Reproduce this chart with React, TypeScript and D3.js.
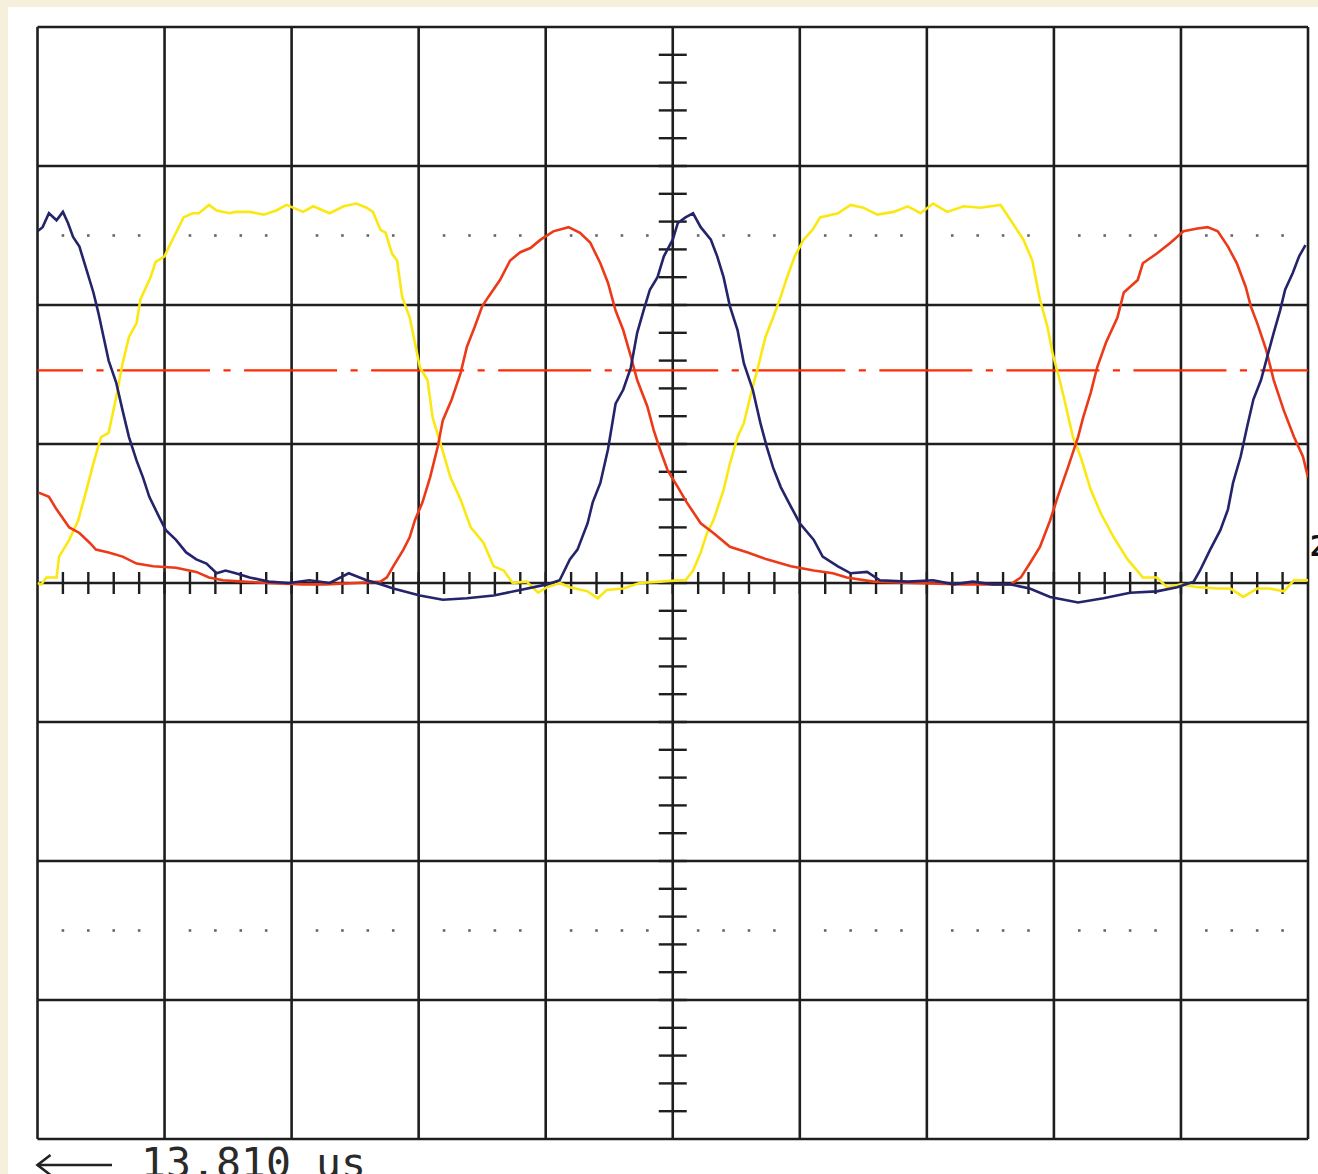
import React from "react";
import * as d3 from "d3";

// Oscilloscope screen: 10 horizontal divisions (time), 8 vertical divisions (volts/div),
// values expressed in divisions, vertical 0 = screen centre.
const timeDivs = d3.range(0, 11);
const voltDivs = d3.range(-4, 5);
const cursorLevels = [2.5, -2.5];
const triggerLevel = 1.53;
const timebaseLabel = "13.810 us";
const channelMarker = "2";

const yellowTrace: [number, number][] = [
  [0.0, 0.0], [0.03, -0.01], [0.07, 0.04], [0.15, 0.04], [0.17, 0.19], [0.25, 0.31], [0.32, 0.45],
  [0.38, 0.65], [0.44, 0.86], [0.5, 1.05], [0.56, 1.08], [0.62, 1.34], [0.67, 1.58], [0.72, 1.77],
  [0.78, 1.87], [0.81, 2.04], [0.89, 2.2], [0.93, 2.31], [1.0, 2.35], [1.03, 2.41], [1.09, 2.52],
  [1.15, 2.63], [1.22, 2.66], [1.27, 2.66], [1.35, 2.72], [1.41, 2.68], [1.51, 2.66], [1.56, 2.67],
  [1.67, 2.67], [1.78, 2.65], [1.88, 2.68], [1.96, 2.72], [2.09, 2.67], [2.17, 2.71], [2.3, 2.66],
  [2.41, 2.71], [2.51, 2.73], [2.59, 2.7], [2.64, 2.67], [2.7, 2.54], [2.74, 2.52], [2.79, 2.37],
  [2.83, 2.32], [2.87, 2.06], [2.93, 1.91], [2.97, 1.73], [3.01, 1.55], [3.07, 1.46], [3.11, 1.19],
  [3.17, 1.01], [3.25, 0.76], [3.33, 0.6], [3.41, 0.4], [3.51, 0.29], [3.59, 0.12], [3.67, 0.09],
  [3.74, 0.0], [3.85, 0.01], [3.94, -0.07], [4.01, -0.03], [4.11, 0.0], [4.19, -0.03], [4.33, -0.06],
  [4.41, -0.11], [4.48, -0.05], [4.61, -0.04], [4.74, 0.0], [4.9, 0.01], [5.06, 0.02], [5.1, 0.02],
  [5.16, 0.09], [5.22, 0.22], [5.27, 0.36], [5.32, 0.45], [5.4, 0.67], [5.45, 0.86], [5.51, 1.05],
  [5.56, 1.15], [5.61, 1.34], [5.67, 1.55], [5.73, 1.77], [5.79, 1.91], [5.85, 2.06], [5.9, 2.2],
  [5.96, 2.35], [6.03, 2.47], [6.1, 2.54], [6.16, 2.63], [6.3, 2.66], [6.4, 2.72], [6.5, 2.7],
  [6.61, 2.65], [6.74, 2.67], [6.85, 2.71], [6.95, 2.66], [7.05, 2.73], [7.16, 2.67], [7.29, 2.71],
  [7.42, 2.7], [7.58, 2.72], [7.66, 2.61], [7.76, 2.47], [7.83, 2.32], [7.89, 2.04], [7.95, 1.84],
  [7.99, 1.65], [8.04, 1.48], [8.09, 1.29], [8.15, 1.05], [8.21, 0.91], [8.29, 0.67], [8.37, 0.5],
  [8.47, 0.33], [8.58, 0.17], [8.7, 0.04], [8.81, 0.04], [8.89, -0.03], [9.0, -0.01], [9.13, -0.03],
  [9.29, -0.04], [9.39, -0.04], [9.49, -0.1], [9.6, -0.04], [9.7, -0.04], [9.81, -0.06], [9.89, 0.02],
  [10.0, 0.02],
];

const redTrace: [number, number][] = [
  [0.01, 0.65], [0.09, 0.62], [0.15, 0.53], [0.25, 0.4], [0.33, 0.36], [0.41, 0.29], [0.46, 0.24],
  [0.56, 0.22], [0.67, 0.19], [0.78, 0.14], [0.91, 0.12], [1.09, 0.11], [1.25, 0.08], [1.35, 0.04],
  [1.46, 0.02], [1.62, 0.01], [1.82, 0.0], [2.09, -0.01], [2.27, -0.01], [2.51, 0.0], [2.7, 0.01],
  [2.75, 0.04], [2.8, 0.12], [2.88, 0.24], [2.93, 0.33], [2.97, 0.45], [3.03, 0.58], [3.09, 0.76],
  [3.15, 0.98], [3.19, 1.17], [3.26, 1.32], [3.33, 1.51], [3.38, 1.7], [3.44, 1.84], [3.5, 1.99],
  [3.55, 2.06], [3.64, 2.18], [3.72, 2.32], [3.8, 2.38], [3.88, 2.41], [3.96, 2.47], [4.06, 2.53],
  [4.18, 2.56], [4.27, 2.52], [4.35, 2.45], [4.43, 2.3], [4.49, 2.16], [4.55, 1.96], [4.61, 1.82],
  [4.67, 1.63], [4.72, 1.46], [4.8, 1.27], [4.85, 1.1], [4.9, 0.96], [4.96, 0.81], [5.04, 0.69],
  [5.11, 0.58], [5.22, 0.43], [5.32, 0.36], [5.45, 0.26], [5.59, 0.22], [5.74, 0.17], [5.93, 0.12],
  [6.11, 0.09], [6.26, 0.07], [6.37, 0.04], [6.58, 0.01], [6.89, 0.0], [7.29, -0.01], [7.66, -0.01],
  [7.74, 0.04], [7.81, 0.14], [7.89, 0.26], [7.97, 0.45], [8.03, 0.62], [8.11, 0.83], [8.19, 1.05],
  [8.23, 1.19], [8.29, 1.37], [8.34, 1.55], [8.41, 1.73], [8.5, 1.91], [8.55, 2.09], [8.66, 2.18],
  [8.7, 2.3], [8.81, 2.37], [8.92, 2.45], [9.02, 2.53], [9.13, 2.55], [9.21, 2.56], [9.29, 2.53],
  [9.37, 2.42], [9.44, 2.3], [9.51, 2.13], [9.55, 1.99], [9.6, 1.87], [9.67, 1.68], [9.73, 1.46],
  [9.81, 1.24], [9.89, 1.05], [9.96, 0.91], [10.0, 0.76],
];

const blueTrace: [number, number][] = [
  [0.0, 2.53], [0.04, 2.56], [0.09, 2.66], [0.15, 2.61], [0.2, 2.67], [0.24, 2.59], [0.28, 2.49],
  [0.33, 2.42], [0.38, 2.27], [0.44, 2.09], [0.48, 1.94], [0.52, 1.77], [0.56, 1.6], [0.62, 1.44],
  [0.67, 1.24], [0.72, 1.05], [0.78, 0.88], [0.83, 0.76], [0.88, 0.62], [0.96, 0.47], [1.01, 0.38],
  [1.09, 0.31], [1.17, 0.22], [1.25, 0.17], [1.33, 0.14], [1.41, 0.07], [1.48, 0.09], [1.56, 0.07],
  [1.67, 0.04], [1.82, 0.01], [1.98, 0.0], [2.14, 0.02], [2.3, 0.0], [2.45, 0.07], [2.59, 0.02],
  [2.67, 0.0], [2.8, -0.04], [3.01, -0.09], [3.19, -0.12], [3.38, -0.11], [3.59, -0.09], [3.8, -0.05],
  [4.01, -0.01], [4.11, 0.02], [4.19, 0.17], [4.25, 0.24], [4.33, 0.43], [4.37, 0.58], [4.43, 0.72],
  [4.49, 0.96], [4.55, 1.29], [4.61, 1.39], [4.67, 1.55], [4.72, 1.8], [4.77, 1.96], [4.82, 2.11],
  [4.88, 2.2], [4.93, 2.35], [5.0, 2.47], [5.04, 2.59], [5.1, 2.63], [5.16, 2.66], [5.22, 2.56],
  [5.3, 2.47], [5.35, 2.35], [5.4, 2.2], [5.45, 1.99], [5.51, 1.82], [5.56, 1.58], [5.63, 1.39],
  [5.69, 1.15], [5.74, 0.98], [5.79, 0.83], [5.85, 0.69], [5.93, 0.55], [6.0, 0.43], [6.11, 0.31],
  [6.18, 0.19], [6.3, 0.12], [6.4, 0.07], [6.53, 0.08], [6.63, 0.02], [6.85, 0.01], [7.05, 0.02],
  [7.21, -0.01], [7.36, 0.01], [7.52, -0.01], [7.66, -0.01], [7.81, -0.04], [7.97, -0.1], [8.19, -0.14],
  [8.39, -0.11], [8.6, -0.07], [8.81, -0.06], [8.97, -0.03], [9.1, 0.01], [9.15, 0.09], [9.23, 0.24],
  [9.31, 0.38], [9.37, 0.53], [9.41, 0.72], [9.47, 0.91], [9.52, 1.12], [9.57, 1.32], [9.63, 1.46],
  [9.68, 1.63], [9.73, 1.8], [9.78, 1.96], [9.82, 2.11], [9.88, 2.23], [9.93, 2.35], [9.98, 2.43],
];

const W = 1318;
const H = 1174;
const plot = { left: 37.5, right: 1308, top: 27, bottom: 1139 };

export default function App() {
  const x = d3.scaleLinear().domain([0, 10]).range([plot.left, plot.right]);
  const y = d3.scaleLinear().domain([-4, 4]).range([plot.bottom, plot.top]);
  const line = d3
    .line<[number, number]>()
    .x((d) => x(d[0]))
    .y((d) => y(d[1]))
    .curve(d3.curveLinear);

  const divW = x(1) - x(0);
  const minorX = d3.range(1, 50).map((i) => i / 5);
  const minorY = d3.range(-19, 20).map((i) => i / 5);
  const dotX = d3.range(1, 50).filter((i) => i % 5 !== 0).map((i) => i / 5);

  const gridColor = "#1e1e1e";
  const traces = [
    { data: yellowTrace, color: "#fbe813" },
    { data: redTrace, color: "#ec3a18" },
    { data: blueTrace, color: "#24246b" },
  ];

  return (
    <svg
      width={W}
      height={H}
      style={{ position: "absolute", left: 0, top: 0, display: "block" }}
    >
      <defs>
        <clipPath id="plotClip">
          <rect x={plot.left} y={plot.top} width={plot.right - plot.left} height={plot.bottom - plot.top} />
        </clipPath>
      </defs>
      <rect x={0} y={0} width={W} height={H} fill="#f6efdb" />
      <rect x={8} y={7} width={W} height={H} fill="#ffffff" />

      {/* grid */}
      <g stroke={gridColor} strokeWidth={2.6}>
        {timeDivs.map((t) => (
          <line key={"v" + t} x1={x(t)} x2={x(t)} y1={plot.top} y2={plot.bottom} />
        ))}
        {voltDivs.map((v) => (
          <line key={"h" + v} x1={plot.left} x2={plot.right} y1={y(v)} y2={y(v)} />
        ))}
      </g>

      {/* centre axis minor ticks */}
      <g stroke={gridColor} strokeWidth={2.4}>
        {minorX.map((t) => (
          <line key={"mx" + t} x1={x(t)} x2={x(t)} y1={y(0) - 11} y2={y(0) + 11} />
        ))}
        {minorY.map((v) => (
          <line key={"my" + v} x1={x(5) - 14} x2={x(5) + 14} y1={y(v)} y2={y(v)} />
        ))}
      </g>

      {/* cursor dotted lines */}
      <g fill="#666">
        {cursorLevels.map((lv) =>
          dotX.map((t) => (
            <rect key={"d" + lv + "_" + t} x={x(t) - 1.3} y={y(lv) - 1.3} width={2.6} height={2.6} />
          ))
        )}
      </g>

      {/* trigger level dash-dot line */}
      <line
        x1={x(0)}
        x2={x(10)}
        y1={y(triggerLevel)}
        y2={y(triggerLevel)}
        stroke="#ff2a00"
        strokeWidth={2.4}
        strokeDasharray={`${divW * 0.732} ${divW * 0.106} ${divW * 0.056} ${divW * 0.106}`}
        strokeDashoffset={divW * 0.374}
      />

      {/* traces */}
      <g clipPath="url(#plotClip)" fill="none" strokeWidth={2.6} strokeLinejoin="miter">
        {traces.map((tr, i) => (
          <path key={i} d={line(tr.data) || ""} stroke={tr.color} />
        ))}
      </g>

      {/* channel marker at right edge */}
      <text x={1310} y={556} fontFamily="DejaVu Sans Mono" fontSize={28} fontWeight="bold" fill="#111">
        {channelMarker}
      </text>

      {/* timebase label */}
      <g stroke="#222" strokeWidth={2.6} fill="none">
        <line x1={x(0)} x2={112} y1={1165} y2={1165} />
        <polyline points={`${x(0) + 13},1155 ${x(0)},1165 ${x(0) + 13},1175`} />
      </g>
      <text x={141} y={1177} fontFamily="DejaVu Sans Mono" fontSize={41.5} fill="#2a2a2a">
        {timebaseLabel}
      </text>
    </svg>
  );
}
